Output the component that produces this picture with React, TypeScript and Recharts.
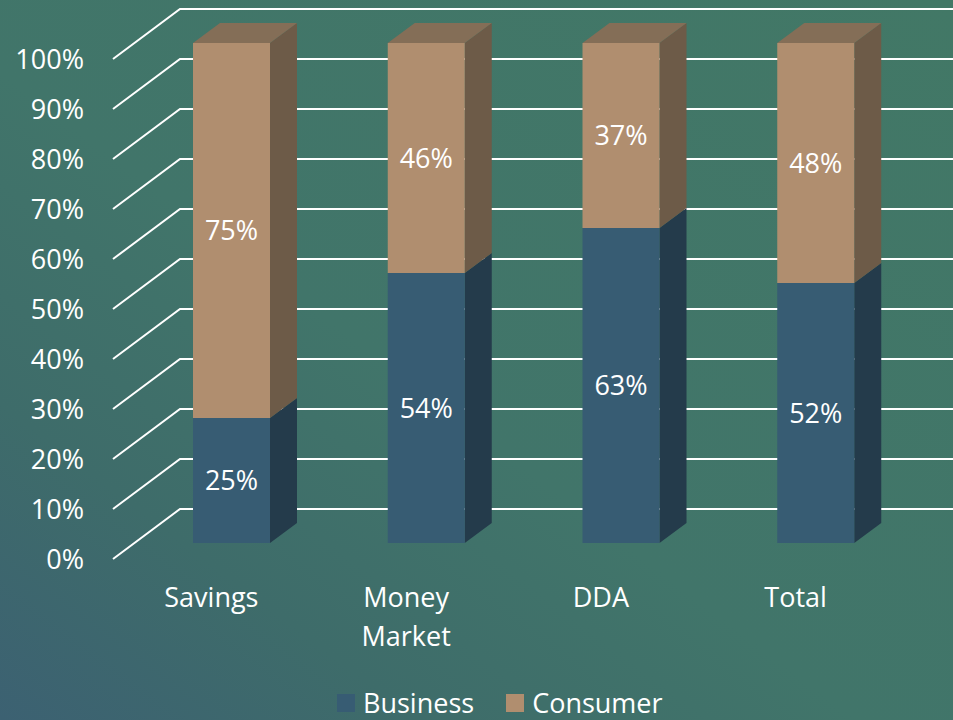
import React from "react";
import { BarChart, Bar, XAxis, YAxis, CartesianGrid, Legend, LabelList } from "recharts";

const categories = ["Savings", "Money Market", "DDA", "Total"];
const business = [25, 54, 63, 52];
const consumer = [75, 46, 37, 48];
const yTicks = [0, 10, 20, 30, 40, 50, 60, 70, 80, 90, 100];

const data = categories.map((name, i) => ({
  name,
  business: business[i],
  consumer: consumer[i],
}));

// fake 3D geometry
const DEPTH_X = 27;
const DEPTH_Y = 20;
const FRONT_DY = 16; // floor front edge below bar plane
const BACK_DY = 34; // back wall above bar plane
const FLOOR_X = 113;
const WALL_X = 180;
const FONT = 27;

const colors = {
  business: { front: "#375c73", side: "#243b4b", top: "#2e4d60" },
  consumer: { front: "#b08e6f", side: "#6d5b48", top: "#846e57" },
};

const makeBox = (c: { front: string; side: string; top: string }, withTop: boolean) => (props: any) => {
  const { x, y, width, height } = props;
  if (!width || height == null) return <g />;
  const r = x + width;
  return (
    <g>
      <polygon
        points={`${r},${y} ${r + DEPTH_X},${y - DEPTH_Y} ${r + DEPTH_X},${y + height - DEPTH_Y} ${r},${y + height}`}
        fill={c.side}
      />
      {withTop && (
        <polygon
          points={`${x},${y} ${x + DEPTH_X},${y - DEPTH_Y} ${r + DEPTH_X},${y - DEPTH_Y} ${r},${y}`}
          fill={c.top}
        />
      )}
      <rect x={x} y={y} width={width} height={height} fill={c.front} />
    </g>
  );
};

const gridLine = (props: any) => {
  const y = props.y1;
  return (
    <polyline
      key={`g-${props.index}-${y}`}
      points={`${FLOOR_X},${y + FRONT_DY} ${WALL_X},${y - BACK_DY} 953,${y - BACK_DY}`}
      fill="none"
      stroke="#ffffff"
      strokeWidth={2}
    />
  );
};

const YTick = ({ y, payload }: any) => (
  <text x={84} y={y + FRONT_DY} dy="0.36em" textAnchor="end" fill="#ffffff" fontSize={FONT}>
    {payload.value}%
  </text>
);

const XTick = ({ x, y, payload }: any) => {
  const words = String(payload.value).split(" ");
  const cx = x - 20;
  return (
    <text x={cx} y={y} textAnchor="middle" fill="#ffffff" fontSize={FONT}>
      {words.map((w, i) => (
        <tspan key={w} x={cx} dy={i === 0 ? 64 : 39}>
          {w}
        </tspan>
      ))}
    </text>
  );
};

const LegendContent = () => (
  <div style={{ display: "flex", alignItems: "center", color: "#fff", fontSize: FONT }}>
    <span style={{ width: 18, height: 18, background: colors.business.front, marginRight: 8 }} />
    <span style={{ marginRight: 32 }}>Business</span>
    <span style={{ width: 18, height: 18, background: colors.consumer.front, marginRight: 8 }} />
    <span>Consumer</span>
  </div>
);

export default function App() {
  return (
    <div
      style={{
        width: 953,
        height: 720,
        background: "linear-gradient(to top right, #3c6172 0%, #3e6c6a 22%, #41756a 45%, #427866 100%)",
        fontFamily: "'Open Sans', sans-serif",
      }}
    >
      <style>{"body{margin:0}"}</style>
      <BarChart
        width={953}
        height={720}
        data={data}
        margin={{ top: 43, right: 40, bottom: 117, left: 0 }}
        barSize={77}
      >
        <CartesianGrid vertical={false} horizontal={gridLine} />
        <XAxis
          dataKey="name"
          height={60}
          axisLine={false}
          tickLine={false}
          tickSize={0}
          tickMargin={0}
          tick={<XTick />}
          interval={0}
        />
        <YAxis
          width={134}
          domain={[0, 100]}
          ticks={yTicks}
          axisLine={false}
          tickLine={false}
          tick={<YTick />}
        />
        <Legend
          verticalAlign="middle"
          align="center"
          content={<LegendContent />}
          wrapperStyle={{ top: 684, left: 337, width: 400 }}
        />
        <Bar
          dataKey="business"
          stackId="a"
          fill={colors.business.front}
          shape={makeBox(colors.business, false)}
          isAnimationActive={false}
        >
          <LabelList dataKey="business" position="center" fill="#ffffff" fontSize={FONT} formatter={(v: any) => `${v}%`} />
        </Bar>
        <Bar
          dataKey="consumer"
          stackId="a"
          fill={colors.consumer.front}
          shape={makeBox(colors.consumer, true)}
          isAnimationActive={false}
        >
          <LabelList dataKey="consumer" position="center" fill="#ffffff" fontSize={FONT} formatter={(v: any) => `${v}%`} />
        </Bar>
      </BarChart>
    </div>
  );
}
